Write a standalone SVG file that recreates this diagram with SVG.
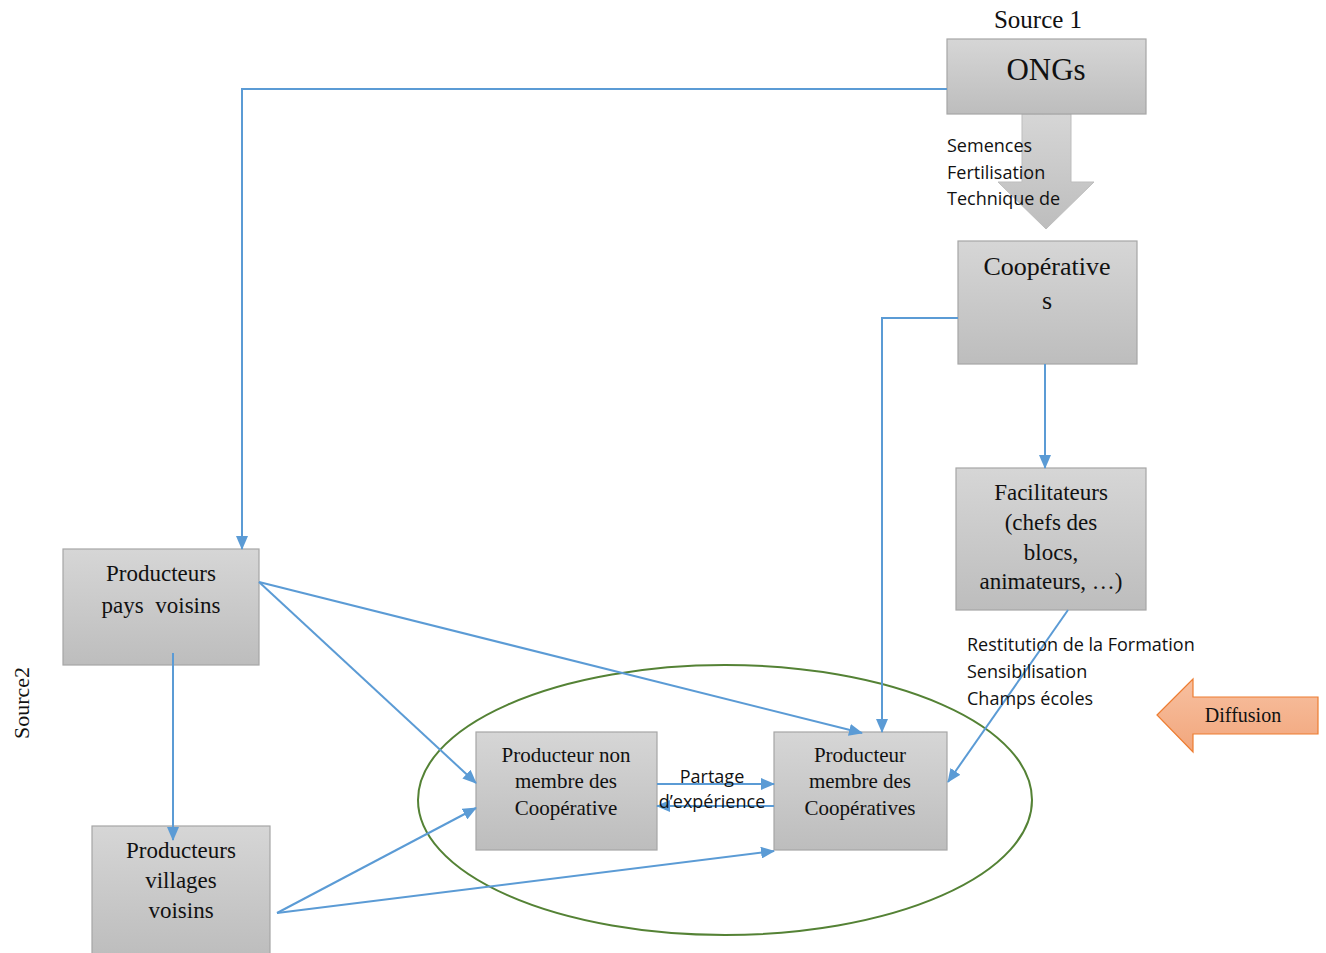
<svg xmlns="http://www.w3.org/2000/svg" width="1326" height="953" viewBox="0 0 1326 953">
<defs>
<linearGradient id="gb" x1="0" y1="0" x2="0" y2="1"><stop offset="0" stop-color="#d6d6d6"/><stop offset="1" stop-color="#bdbdbd"/></linearGradient>
<linearGradient id="go" x1="0" y1="0" x2="0" y2="1"><stop offset="0" stop-color="#f7c0a0"/><stop offset="1" stop-color="#f2a67c"/></linearGradient>
<marker id="ah" markerWidth="14" markerHeight="12" refX="13" refY="6" orient="auto" markerUnits="userSpaceOnUse"><path d="M0,0 L14,6 L0,12 z" fill="#5b9bd5"/></marker>
<style>
.box{fill:url(#gb);stroke:#a6a6a6;stroke-width:1.2}
.t{font-family:"Liberation Serif",serif;fill:#111;text-anchor:middle}
.c{font-family:"Open Sans","Liberation Sans",sans-serif;fill:#111;font-size:18px}
.ln{fill:none;stroke:#5b9bd5;stroke-width:2}
</style>
</defs>
<rect width="1326" height="953" fill="#fff"/>
<text class="t" x="1038" y="28" font-size="25">Source 1</text>
<text class="t" transform="translate(29,703) rotate(-90)" font-size="22">Source2</text>
<g id="ongs-arrow"><path d="M1022,114 H1071 V182 H1094 L1046,229 L998,182 H1022 Z" fill="url(#gb)" stroke="#bdbdbd"/></g>
<g id="ongs"><rect class="box" x="947" y="39" width="199" height="75"/><text class="t" x="1046" y="80" font-size="31">ONGs</text></g>
<g id="ongs-label"><text class="c" x="947" y="152">Semences</text><text class="c" x="947" y="179">Fertilisation</text><text class="c" x="947" y="205">Technique de</text></g>
<g id="coop"><rect class="box" x="958" y="241" width="179" height="123"/><text class="t" x="1047" y="275" font-size="26">Coopérative</text><text class="t" x="1047" y="309" font-size="26">s</text></g>
<g id="facil"><rect class="box" x="956" y="468" width="190" height="142"/><text class="t" x="1051" y="500" font-size="23">Facilitateurs</text><text class="t" x="1051" y="530" font-size="23">(chefs des</text><text class="t" x="1051" y="560" font-size="23">blocs,</text><text class="t" x="1051" y="589" font-size="23">animateurs, …)</text></g>
<g id="pays"><rect class="box" x="63" y="549" width="196" height="116"/><text class="t" x="161" y="581" font-size="23">Producteurs</text><text class="t" x="161" y="613" font-size="23" xml:space="preserve">pays  voisins</text></g>
<g id="villages"><rect class="box" x="92" y="826" width="178" height="130"/><text class="t" x="181" y="858" font-size="23">Producteurs</text><text class="t" x="181" y="888" font-size="23">villages</text><text class="t" x="181" y="918" font-size="23">voisins</text></g>
<g id="nonmembre"><rect class="box" x="476" y="732" width="181" height="118"/><text class="t" x="566" y="762" font-size="21">Producteur non</text><text class="t" x="566" y="788" font-size="21">membre des</text><text class="t" x="566" y="815" font-size="21">Coopérative</text></g>
<g id="membre"><rect class="box" x="774" y="732" width="173" height="118"/><text class="t" x="860" y="762" font-size="21">Producteur</text><text class="t" x="860" y="788" font-size="21">membre des</text><text class="t" x="860" y="815" font-size="21">Coopératives</text></g>
<g id="ellipse"><ellipse cx="725" cy="800" rx="307" ry="135" fill="none" stroke="#548235" stroke-width="2"/></g>
<g id="diffusion"><path d="M1157,715 L1193,679 V697 H1318 V734 H1193 V752 Z" fill="url(#go)" stroke="#ed7d31" stroke-width="1.2"/><text class="t" x="1243" y="722" font-size="20">Diffusion</text></g>
<g id="connectors">
<path class="ln" d="M947,89 H242 V549" stroke-width="1.5" marker-end="url(#ah)"/>
<path class="ln" d="M958,318 H882 V732" stroke-width="1.5" marker-end="url(#ah)"/>
<path class="ln" d="M1045,364 V468" marker-end="url(#ah)"/>
<path class="ln" d="M1068,610 L948,782" marker-end="url(#ah)"/>
<path class="ln" d="M259,582 L862,733" marker-end="url(#ah)"/>
<path class="ln" d="M259,582 L476,783" marker-end="url(#ah)"/>
<path class="ln" d="M173,653 V840" marker-end="url(#ah)"/>
<path class="ln" d="M277,913 L476,808" marker-end="url(#ah)"/>
<path class="ln" d="M277,913 L774,851" marker-end="url(#ah)"/>
<path class="ln" d="M657,784 H774" marker-end="url(#ah)"/>
<path class="ln" d="M774,806 H657" marker-end="url(#ah)"/>
</g>
<g id="labels">
<text class="c" x="712" y="783" text-anchor="middle">Partage</text>
<text class="c" x="712" y="808" text-anchor="middle">d’expérience</text>
<text class="c" x="967" y="651">Restitution de la Formation</text>
<text class="c" x="967" y="678">Sensibilisation</text>
<text class="c" x="967" y="705">Champs écoles</text>
</g>
</svg>
